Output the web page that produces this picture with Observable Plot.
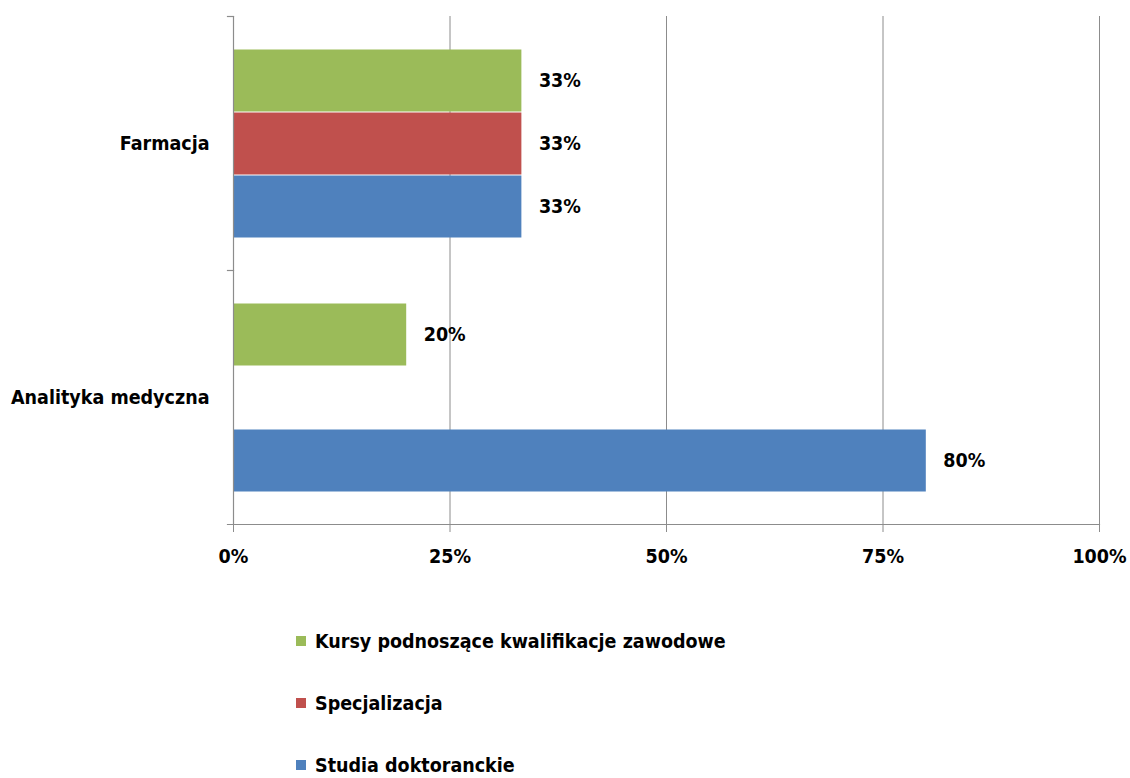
<!DOCTYPE html>
<html>
<head>
<meta charset="utf-8">
<script src="https://cdn.jsdelivr.net/npm/d3@7"></script>
<script src="https://cdn.jsdelivr.net/npm/@observablehq/plot@0.6"></script>
<style>
  html, body { margin: 0; padding: 0; background: #fff; overflow: hidden; }
  body { width: 1130px; height: 778px; font-family: "DejaVu Sans Condensed", "DejaVu Sans", sans-serif; font-stretch: condensed; }
  #legend { margin-top: 20px; padding-left: 296px; }
  .row { height: 62px; display: flex; align-items: center; font-size: 19.5px; font-weight: bold; color: #000; }
  .sw { width: 10px; height: 10px; margin-right: 9px; flex: none; }
</style>
</head>
<body>
<div id="chart"></div>
<div id="legend"></div>
<script>
const categories = ["Farmacja", "Analityka medyczna"];
const series = ["Kursy podnoszące kwalifikacje zawodowe", "Specjalizacja", "Studia doktoranckie"];
const colors = ["#9BBB59", "#C0504D", "#4F81BD"];
const farmacjaValues = [33.3, 33.3, 33.3];
const analitykaValues = [20, null, 80];
const xTicks = [0, 25, 50, 75, 100];

const valuesByCategory = [farmacjaValues, analitykaValues];
const data = [];
categories.forEach((c, i) => series.forEach((s, j) => {
  const v = valuesByCategory[i][j];
  if (v != null) data.push({category: c, series: s, value: v});
}));

const font = '"DejaVu Sans Condensed", "DejaVu Sans", sans-serif';
const axisColor = "#8c8c8c";
const fs = 19.5;

const chart = Plot.plot({
  width: 1130,
  height: 590,
  marginTop: 15,
  marginBottom: 66,
  marginLeft: 233,
  marginRight: 31,
  style: {fontFamily: font, fontSize: fs + "px", fontWeight: "bold", color: "#000", background: "#fff", fontStretch: "condensed"},
  x: {domain: [0, 100], axis: null},
  y: {domain: series, paddingInner: 0, paddingOuter: 0.5, axis: null},
  fy: {domain: categories, padding: 0, axis: null},
  color: {domain: series, range: colors},
  marks: [
    Plot.ruleX(xTicks.filter(t => t > 0), {stroke: axisColor, strokeWidth: 1, strokeOpacity: 1}),
    Plot.barX(data, {x: "value", y: "series", fy: "category", fill: "series", insetTop: 0.5, insetBottom: 0.5}),
    Plot.ruleX([0], {stroke: axisColor, strokeWidth: 1.2}),
    Plot.frame({anchor: "top", insetLeft: -6, insetRight: 866, stroke: axisColor, strokeWidth: 1.2}),
    Plot.frame({anchor: "bottom", insetLeft: -6, facetAnchor: "bottom", stroke: axisColor, strokeWidth: 1.2}),
    Plot.text(data, {x: "value", y: "series", fy: "category", text: d => Math.round(d.value) + "%", textAnchor: "start", dx: 17, fontSize: fs, fontWeight: "bold", fill: "#000"}),
    Plot.axisFy({tickSize: 0, tickPadding: 24, fontSize: fs, fontWeight: "bold", label: null, anchor: "left"}),
    Plot.axisX({ticks: xTicks, tickFormat: d => d + "%", tickSize: 8, tickPadding: 17, stroke: axisColor, fontSize: fs, fontWeight: "bold", label: null, anchor: "bottom", color: "#000"})
  ]
});
document.getElementById("chart").appendChild(chart);

const legend = document.getElementById("legend");
series.forEach((s, j) => {
  const row = document.createElement("div");
  row.className = "row";
  const sw = document.createElement("span");
  sw.className = "sw";
  sw.style.background = colors[j];
  const label = document.createElement("span");
  label.textContent = s;
  row.appendChild(sw);
  row.appendChild(label);
  legend.appendChild(row);
});
</script>
</body>
</html>
